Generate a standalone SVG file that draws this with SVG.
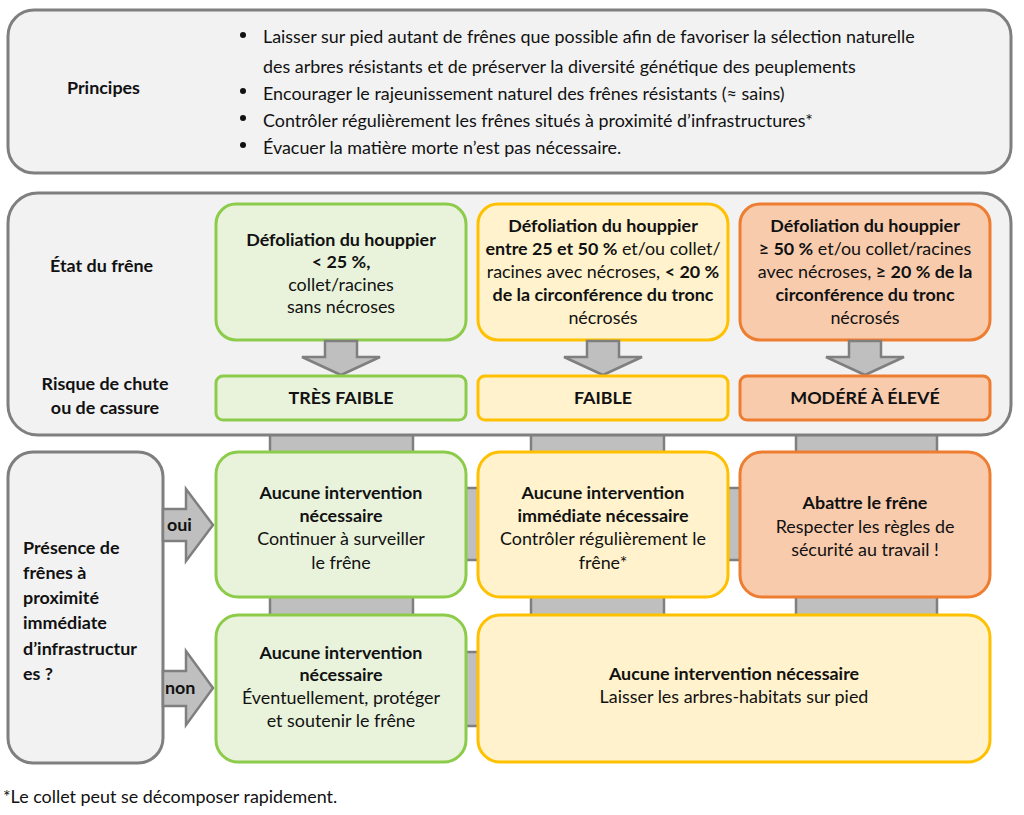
<svg xmlns="http://www.w3.org/2000/svg" width="1024" height="815" viewBox="0 0 1024 815">
<style>
text{font-family:Lato,"Open Sans","Liberation Sans",sans-serif;font-size:17.9px;fill:#111;}
.b{font-weight:bold;}
.c{text-anchor:middle;}
.panel{fill:#f2f2f2;stroke:#7f7f7f;stroke-width:3;}
.g{fill:#e9f3dc;stroke:#8dcb4a;stroke-width:3;}
.y{fill:#fff2cc;stroke:#ffc000;stroke-width:3;}
.o{fill:#f8cbad;stroke:#ed7d31;stroke-width:3;}
.con{fill:#bfbfbf;stroke:#7f7f7f;stroke-width:2.5;}
</style>
<rect width="1024" height="815" fill="#fff"/>
<g id="connectors">
<rect class="con" x="270" y="428" width="143" height="30"/>
<rect class="con" x="531" y="428" width="133" height="30"/>
<rect class="con" x="796" y="428" width="141" height="30"/>
<rect class="con" x="270" y="592" width="143" height="28"/>
<rect class="con" x="531" y="592" width="133" height="28"/>
<rect class="con" x="796" y="592" width="141" height="28"/>
<rect class="con" x="460" y="488" width="24" height="72"/>
<rect class="con" x="722" y="488" width="24" height="72"/>
<rect class="con" x="460" y="652" width="24" height="74"/>
</g>
<g id="principes">
<rect class="panel" x="8" y="10" width="1003" height="163" rx="26"/>
<text class="b" x="67" y="94">Principes</text>
<g fill="#111"><circle cx="243" cy="35" r="3"/><circle cx="243" cy="91" r="3"/><circle cx="243" cy="118" r="3"/><circle cx="243" cy="145" r="3"/></g>
<text x="263" y="43">Laisser sur pied autant de frênes que possible afin de favoriser la sélection naturelle</text>
<text x="263" y="73">des arbres résistants et de préserver la diversité génétique des peuplements</text>
<text x="263" y="100">Encourager le rajeunissement naturel des frênes résistants (≈ sains)</text>
<text x="263" y="127">Contrôler régulièrement les frênes situés à proximité d’infrastructures*</text>
<text x="263" y="154">Évacuer la matière morte n’est pas nécessaire.</text>
</g>
<g id="etat-panel">
<rect class="panel" x="8" y="193" width="1003" height="242" rx="30"/>
<text class="b" x="50" y="272">État du frêne</text>
<text class="b c" x="105" y="390">Risque de chute</text>
<text class="b c" x="105" y="414">ou de cassure</text>
</g>
<g id="etat-vert">
<rect class="g" x="216" y="204" width="250" height="136" rx="20"/>
<text class="b c" x="341" y="246">Défoliation du houppier</text>
<text class="b c" x="341" y="268">&lt; 25 %,</text>
<text class="c" x="341" y="291">collet/racines</text>
<text class="c" x="341" y="313">sans nécroses</text>
</g>
<g id="etat-jaune">
<rect class="y" x="478" y="204" width="250" height="136" rx="20"/>
<text class="b c" x="603" y="232">Défoliation du houppier</text>
<text class="c" x="603" y="255"><tspan class="b">entre 25 et 50 %</tspan> et/ou collet/</text>
<text class="c" x="603" y="278">racines avec nécroses, <tspan class="b">&lt; 20 %</tspan></text>
<text class="b c" x="603" y="301">de la circonférence du tronc</text>
<text class="c" x="603" y="324">nécrosés</text>
</g>
<g id="etat-orange">
<rect class="o" x="740" y="204" width="250" height="136" rx="20"/>
<text class="b c" x="865" y="232">Défoliation du houppier</text>
<text class="c" x="865" y="255"><tspan class="b">≥ 50 %</tspan> et/ou collet/racines</text>
<text class="c" x="865" y="278">avec nécroses, <tspan class="b">≥ 20 % de la</tspan></text>
<text class="b c" x="865" y="301">circonférence du tronc</text>
<text class="c" x="865" y="324">nécrosés</text>
</g>
<g id="fleches-bas">
<polygon class="con" points="325,341 357,341 357,357 380,357 341,375 302,357 325,357"/>
<polygon class="con" points="587,341 619,341 619,357 642,357 603,375 564,357 587,357"/>
<polygon class="con" points="849,341 881,341 881,357 904,357 865,375 826,357 849,357"/>
</g>
<g id="risque-tres-faible">
<rect class="g" x="216" y="376" width="250" height="44" rx="7"/>
<text class="b c" x="341" y="404">TRÈS FAIBLE</text>
</g>
<g id="risque-faible">
<rect class="y" x="478" y="376" width="250" height="44" rx="7"/>
<text class="b c" x="603" y="404">FAIBLE</text>
</g>
<g id="risque-eleve">
<rect class="o" x="740" y="376" width="250" height="44" rx="7"/>
<text class="b c" x="865" y="404">MODÉRÉ À ÉLEVÉ</text>
</g>
<g id="presence">
<rect class="panel" x="8" y="452" width="155" height="311" rx="25"/>
<text class="b" x="23" y="554">Présence de</text>
<text class="b" x="23" y="579">frênes à</text>
<text class="b" x="23" y="604">proximité</text>
<text class="b" x="23" y="629">immédiate</text>
<text class="b" x="23" y="655">d’infrastructur</text>
<text class="b" x="23" y="680">es ?</text>
</g>
<g id="fleche-oui">
<polygon class="con" points="163,509 186,509 186,489 213,525 186,561 186,541 163,541"/>
<text class="b" x="167" y="531">oui</text>
</g>
<g id="fleche-non">
<polygon class="con" points="163,671 186,671 186,651 213,688 186,725 186,706 163,706"/>
<text class="b" x="165" y="694">non</text>
</g>
<g id="oui-vert">
<rect class="g" x="216" y="452" width="250" height="145" rx="22"/>
<text class="b c" x="341" y="499">Aucune intervention</text>
<text class="b c" x="341" y="522">nécessaire</text>
<text class="c" x="341" y="545">Continuer à surveiller</text>
<text class="c" x="341" y="569">le frêne</text>
</g>
<g id="oui-jaune">
<rect class="y" x="478" y="452" width="250" height="145" rx="22"/>
<text class="b c" x="603" y="499">Aucune intervention</text>
<text class="b c" x="603" y="522">immédiate nécessaire</text>
<text class="c" x="603" y="545">Contrôler régulièrement le</text>
<text class="c" x="603" y="569">frêne*</text>
</g>
<g id="oui-orange">
<rect class="o" x="740" y="452" width="250" height="145" rx="22"/>
<text class="b c" x="865" y="509">Abattre le frêne</text>
<text class="c" x="865" y="533">Respecter les règles de</text>
<text class="c" x="865" y="556">sécurité au travail !</text>
</g>
<g id="non-vert">
<rect class="g" x="216" y="615" width="250" height="147" rx="22"/>
<text class="b c" x="341" y="659">Aucune intervention</text>
<text class="b c" x="341" y="681">nécessaire</text>
<text class="c" x="341" y="704">Éventuellement, protéger</text>
<text class="c" x="341" y="727">et soutenir le frêne</text>
</g>
<g id="non-jaune">
<rect class="y" x="478" y="615" width="512" height="147" rx="22"/>
<text class="b c" x="734" y="680">Aucune intervention nécessaire</text>
<text class="c" x="734" y="703">Laisser les arbres-habitats sur pied</text>
</g>
<text x="3" y="803">*Le collet peut se décomposer rapidement.</text>
</svg>
